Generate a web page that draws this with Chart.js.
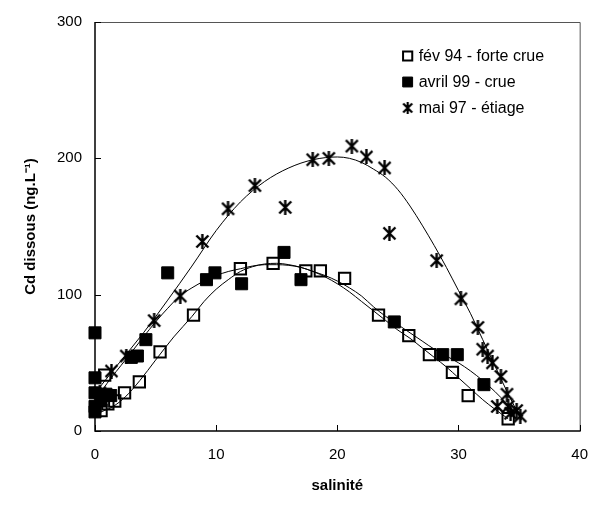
<!DOCTYPE html>
<html>
<head>
<meta charset="utf-8">
<script src="https://cdn.jsdelivr.net/npm/chart.js@4.4.0/dist/chart.umd.min.js"></script>
<style>
  html, body { margin: 0; padding: 0; background: #fff; }
</style>
</head>
<body>
<canvas id="cdChart" width="603" height="508"></canvas>
<script>
// Salinity (x) and dissolved Cd (ng/L) for each campaign
const febSal = [0.5, 0.8, 1.06, 1.63, 2.44, 3.66, 5.37, 8.13, 12.0, 14.7, 17.4, 18.6, 20.6, 23.4, 25.9, 27.6, 29.5, 30.8, 34.1];
const febCd  = [15, 41, 20, 22, 28, 36, 58, 85, 119, 123, 117.5, 117.5, 112, 85, 70, 56, 43, 26, 9];

const avrSal = [0, 0, 0, 0, 0, 0.5, 0.9, 1.3, 3.0, 3.5, 4.2, 6.0, 9.2, 9.9, 12.1, 15.6, 17.0, 24.7, 28.7, 29.9, 32.1];
const avrCd  = [72, 39, 28, 18, 14, 22, 27, 26, 54, 55, 67, 116, 111, 116, 108, 131, 111, 80, 56, 56, 34];

const maiSal = [0.4, 1.36, 2.58, 4.88, 7.04, 8.86, 10.98, 13.2, 15.7, 17.97, 19.3, 21.2, 22.4, 23.9, 24.3, 28.2, 30.2, 31.6, 32.0, 32.4, 32.8, 33.5, 34.0, 33.2, 34.1, 34.3, 34.8, 35.1];
const maiCd  = [28, 44, 55, 81, 99, 139, 163, 180, 164, 199, 200, 209, 201, 193, 145, 125, 97, 76, 60, 55, 50, 40, 27, 18, 18, 13, 15, 11];

// Fitted trend lines, sampled along each curve
const febFitSal = [0.5, 1.5, 2.5, 3.7, 5, 6.5, 8, 9, 10, 11, 12, 13, 14, 15, 16, 17, 18, 19, 20, 21, 22, 23, 24, 25, 26, 27, 28, 29, 30, 31, 32, 33, 34.1];
const febFitCd  = [14, 18, 25, 37, 52, 69, 84, 95, 104, 111, 117, 120.5, 122.5, 123, 122, 120, 117, 113, 108, 102, 95, 88, 81, 74, 68, 61, 54, 47, 39, 31, 23, 16, 9];

const avrFitSal = [0, 1, 2.5, 4, 5, 6, 7, 8, 9, 10, 11, 12, 13, 14, 15, 16, 17, 18, 19, 20, 21, 22, 23, 24, 25, 26, 27, 28, 29, 30, 31, 32, 33, 34, 34.8];
const avrFitCd  = [22, 35, 52, 69, 80, 90, 99, 105, 110, 114, 117, 119, 121, 122, 122, 121.5, 120, 117, 114, 110, 105, 99, 91, 84, 78, 72, 66, 60, 55, 50, 44, 37, 29, 20, 13];

const maiFitSal = [0.2, 2, 4, 6, 8, 10, 12, 14, 16, 18, 20, 21, 22, 23, 24, 25, 26, 27, 28, 29, 30, 31, 32, 33, 34, 35.2];
const maiFitCd  = [30, 50, 72, 96, 121, 147, 168, 183, 193, 199, 201, 200, 197, 192, 186, 177, 165, 151, 136, 120, 103, 86, 67, 48, 29, 8];

const seriesLabels = ['fév 94 - forte crue', 'avril 99 - crue', 'mai 97 - étiage'];
const xRange = [0, 40], xStep = 10;
const yRange = [0, 300], yStep = 100;

const pts = (xs, ys) => xs.map((x, i) => ({ x, y: ys[i] }));

const FONT = '"Liberation Sans", Arial, Helvetica, sans-serif';
Chart.defaults.font.family = FONT;
Chart.defaults.font.size = 15;
Chart.defaults.color = '#000';

// asterisk marker: an X crossed by a vertical bar
function makeStar(size, lw) {
  const c = document.createElement('canvas');
  c.width = c.height = size;
  const g = c.getContext('2d');
  g.strokeStyle = '#000';
  g.lineWidth = lw;
  const m = 1.5, s = size - 1.5;
  g.beginPath();
  g.moveTo(m, m); g.lineTo(s, s);
  g.moveTo(s, m); g.lineTo(m, s);
  g.moveTo(size / 2, 0); g.lineTo(size / 2, size);
  g.stroke();
  return c;
}
const starMark = makeStar(15, 2.4);
const starKey = makeStar(12, 2.2);

// frame round the plot + inward tick marks
const frame = {
  id: 'frame',
  beforeDatasetsDraw(chart) {
    const { ctx, chartArea: a, scales: { x, y } } = chart;
    ctx.save();
    ctx.strokeStyle = '#555';
    ctx.lineWidth = 1;
    ctx.beginPath();
    ctx.moveTo(a.left, a.top + 0.5);
    ctx.lineTo(a.right + 0.5, a.top + 0.5);
    ctx.lineTo(a.right + 0.5, a.bottom);
    ctx.stroke();

    ctx.strokeStyle = '#000';
    ctx.lineWidth = 1.5;
    ctx.beginPath();
    ctx.moveTo(a.left, a.top);
    ctx.lineTo(a.left, a.bottom);
    ctx.lineTo(a.right + 1, a.bottom);
    ctx.stroke();

    ctx.lineWidth = 1;
    ctx.beginPath();
    x.ticks.forEach(t => {
      const px = Math.round(x.getPixelForValue(t.value)) + 0.5;
      ctx.moveTo(px, a.bottom);
      ctx.lineTo(px, a.bottom - 6);
    });
    y.ticks.forEach(t => {
      const py = Math.round(y.getPixelForValue(t.value)) + 0.5;
      ctx.moveTo(a.left, py);
      ctx.lineTo(a.left + 6, py);
    });
    ctx.stroke();
    ctx.restore();
  }
};

// key in the upper right corner of the plot
const keyMarks = [
  { pointStyle: 'rect', radius: 6.5, fill: 'rgba(0,0,0,0)', borderWidth: 2 },
  { pointStyle: 'rect', radius: 7, fill: '#000', borderWidth: 1 },
  { pointStyle: starKey, radius: 6, fill: '#000', borderWidth: 0 }
];
const keyBox = {
  id: 'keyBox',
  afterDatasetsDraw(chart) {
    const { ctx, chartArea: a } = chart;
    const markX = a.right - 172, textX = a.right - 161;
    ctx.save();
    ctx.font = '16px ' + FONT;
    ctx.textBaseline = 'middle';
    seriesLabels.forEach((label, i) => {
      const k = keyMarks[i];
      const yy = a.top + 34 + i * 26;
      ctx.fillStyle = k.fill;
      ctx.strokeStyle = '#000';
      ctx.lineWidth = k.borderWidth;
      Chart.helpers.drawPoint(ctx, {
        pointStyle: k.pointStyle,
        radius: k.radius,
        borderWidth: k.borderWidth,
        rotation: 0
      }, markX, yy);
      ctx.fillStyle = '#000';
      ctx.fillText(label, textX, yy + 1);
    });
    ctx.restore();
  }
};

const fitLine = (xs, ys) => ({
  data: pts(xs, ys),
  showLine: true,
  borderColor: '#000',
  borderWidth: 1,
  pointRadius: 0,
  cubicInterpolationMode: 'monotone',
  clip: false
});

new Chart(document.getElementById('cdChart'), {
  type: 'scatter',
  data: {
    datasets: [
      {
        label: seriesLabels[0],
        data: pts(febSal, febCd),
        pointStyle: 'rect',
        pointRadius: 8,
        pointBackgroundColor: 'rgba(0,0,0,0)',
        pointBorderColor: '#000',
        pointBorderWidth: 2,
        clip: false
      },
      {
        label: seriesLabels[1],
        data: pts(avrSal, avrCd),
        pointStyle: 'rect',
        pointRadius: 8.5,
        pointBackgroundColor: '#000',
        pointBorderColor: '#000',
        pointBorderWidth: 1,
        clip: false
      },
      {
        label: seriesLabels[2],
        data: pts(maiSal, maiCd),
        pointStyle: starMark,
        pointRadius: 7,
        pointBackgroundColor: '#000',
        pointBorderColor: '#000',
        pointBorderWidth: 0,
        clip: false
      },
      fitLine(febFitSal, febFitCd),
      fitLine(avrFitSal, avrFitCd),
      fitLine(maiFitSal, maiFitCd)
    ]
  },
  options: {
    responsive: false,
    animation: false,
    events: [],
    layout: { padding: { top: 20, right: 16, left: 0, bottom: 0 } },
    plugins: {
      legend: { display: false },
      tooltip: { enabled: false }
    },
    scales: {
      x: {
        type: 'linear',
        min: xRange[0],
        max: xRange[1],
        grid: { display: false, drawTicks: false },
        border: { display: false },
        ticks: { stepSize: xStep, padding: 15, font: { size: 15 } },
        title: {
          display: true,
          text: 'salinité',
          font: { size: 15, weight: 'bold' },
          padding: { top: 0, bottom: 13 }
        },
        afterFit: s => { s.height = 77; }
      },
      y: {
        type: 'linear',
        min: yRange[0],
        max: yRange[1],
        grid: { display: false, drawTicks: false },
        border: { display: false },
        ticks: { stepSize: yStep, padding: 13, font: { size: 15 } },
        title: {
          display: true,
          text: 'Cd dissous (ng.L⁻¹)',
          font: { size: 15, weight: 'bold' },
          padding: { top: 22, bottom: 0 }
        },
        afterFit: s => { s.width = 95; }
      }
    }
  },
  plugins: [frame, keyBox]
});
</script>
</body>
</html>
